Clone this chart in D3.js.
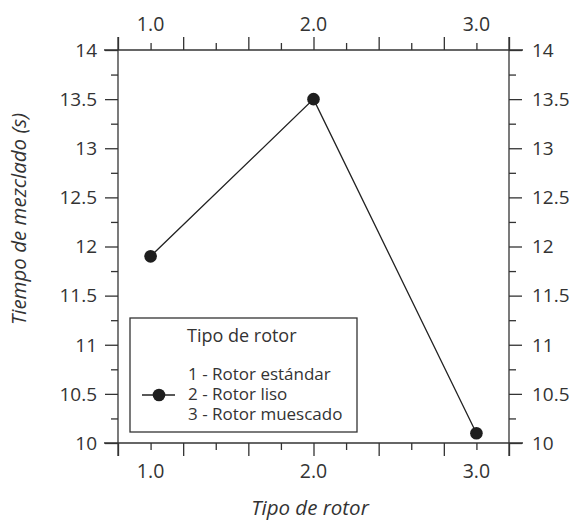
<!DOCTYPE html>
<html>
<head>
<meta charset="utf-8">
<script src="https://cdn.jsdelivr.net/npm/d3@7"></script>
<style>
  html, body { margin: 0; padding: 0; background: #fff; }
  svg { display: block; }
  text { font-family: "Open Sans", "Noto Sans", sans-serif; fill: #333; }
</style>
</head>
<body>
<svg id="chart" width="572" height="522"></svg>
<script>
// ---- data ----
const rotorTypes = [1, 2, 3];
const mixingTime = [11.9, 13.5, 10.1];
const xLabelTicks = [1.0, 2.0, 3.0];
const xLongTicks = [0.8, 1.2, 1.6, 2.0, 2.4, 2.8, 3.2];
const xShortTicks = [1.0, 1.4, 1.8, 2.2, 2.6, 3.0];
const yMajorTicks = [10, 10.5, 11, 11.5, 12, 12.5, 13, 13.5, 14];
const yMinorTicks = [10.25, 10.75, 11.25, 11.75, 12.25, 12.75, 13.25, 13.75];
const legendTitle = "Tipo de rotor";
const legendLines = ["1 - Rotor estándar", "2 - Rotor liso", "3 - Rotor muescado"];
const xTitle = "Tipo de rotor";
const yTitle = "Tiempo de mezclado (s)";

// ---- layout ----
const L = 118, R = 509, T = 50, B = 443;
const ext = 14;
const axisColor = "#333";
const svg = d3.select("#chart");

const x = d3.scaleLinear().domain([0.8, 3.2]).range([L, R]);
const y = d3.scaleLinear().domain([10, 14]).range([B, T]);

function styleAxis(g) {
  g.select(".domain").remove();
  g.selectAll(".tick line").attr("stroke", axisColor).attr("stroke-width", 1.3);
  g.selectAll(".tick text").remove();
}

// x axes ticks
[["bottom", B], ["top", T]].forEach(([side, yy]) => {
  const mk = side === "bottom" ? d3.axisBottom : d3.axisTop;
  svg.append("g").attr("transform", `translate(0,${yy})`)
    .call(mk(x).tickValues(xLongTicks).tickSize(13).tickSizeOuter(0)).call(styleAxis);
  svg.append("g").attr("transform", `translate(0,${yy})`)
    .call(mk(x).tickValues(xShortTicks).tickSize(7).tickSizeOuter(0)).call(styleAxis);
  svg.append("g").selectAll("text").data(xLabelTicks).join("text")
    .attr("x", d => x(d))
    .attr("y", side === "bottom" ? B + 35 : T - 19)
    .attr("text-anchor", "middle")
    .style("font-size", "19.5px")
    .text(d => d.toFixed(1));
});

// y axes ticks
[["left", L], ["right", R]].forEach(([side, xx]) => {
  const mk = side === "left" ? d3.axisLeft : d3.axisRight;
  svg.append("g").attr("transform", `translate(${xx},0)`)
    .call(mk(y).tickValues(yMajorTicks).tickSize(13).tickSizeOuter(0)).call(styleAxis);
  svg.append("g").attr("transform", `translate(${xx},0)`)
    .call(mk(y).tickValues(yMinorTicks).tickSize(7).tickSizeOuter(0)).call(styleAxis);
  svg.append("g").selectAll("text").data(yMajorTicks).join("text")
    .attr("x", side === "left" ? L - 21 : R + 23)
    .attr("y", d => y(d))
    .attr("dy", "0.36em")
    .attr("text-anchor", side === "left" ? "end" : "start")
    .style("font-size", "19px")
    .text(d => d3.format("")(d));
});

// frame lines (extended beyond the plot)
const frame = svg.append("g").attr("stroke", axisColor).attr("stroke-width", 1.3);
frame.append("line").attr("x1", L - ext).attr("x2", R + ext).attr("y1", T).attr("y2", T);
frame.append("line").attr("x1", L - ext).attr("x2", R + ext).attr("y1", B).attr("y2", B);
frame.append("line").attr("x1", L).attr("x2", L).attr("y1", T - 13).attr("y2", B + 13);
frame.append("line").attr("x1", R).attr("x2", R).attr("y1", T - 13).attr("y2", B + 13);

// data line + points
const pts = rotorTypes.map((r, i) => [r, mixingTime[i]]);
svg.append("path").datum(pts)
  .attr("fill", "none").attr("stroke", "#222").attr("stroke-width", 1.3)
  .attr("d", d3.line().x(d => x(d[0])).y(d => y(d[1])));
svg.append("g").selectAll("circle").data(pts).join("circle")
  .attr("cx", d => x(d[0])).attr("cy", d => y(d[1])).attr("r", 6.3)
  .attr("fill", "#1e1e1e");

// legend
const lg = svg.append("g");
lg.append("rect").attr("x", 130).attr("y", 318).attr("width", 227).attr("height", 114)
  .attr("fill", "#fff").attr("stroke", axisColor).attr("stroke-width", 1.3);
lg.append("text").attr("x", 187).attr("y", 342).style("font-size", "18px").text(legendTitle);
lg.selectAll("text.item").data(legendLines).join("text").attr("class", "item")
  .attr("x", 188).attr("y", (d, i) => 380 + i * 20)
  .style("font-size", "17px").text(d => d);
lg.append("line").attr("x1", 142).attr("x2", 175).attr("y1", 395).attr("y2", 395)
  .attr("stroke", "#222").attr("stroke-width", 1.3);
lg.append("circle").attr("cx", 159).attr("cy", 395).attr("r", 6.3).attr("fill", "#1e1e1e");

// axis titles
svg.append("text").attr("x", 310).attr("y", 515)
  .attr("text-anchor", "middle").style("font-size", "20.5px").style("font-style", "italic")
  .text(xTitle);
svg.append("text").attr("transform", "translate(26,219) rotate(-90)")
  .attr("text-anchor", "middle").style("font-size", "20.5px").style("font-style", "italic")
  .text(yTitle);
</script>
</body>
</html>
